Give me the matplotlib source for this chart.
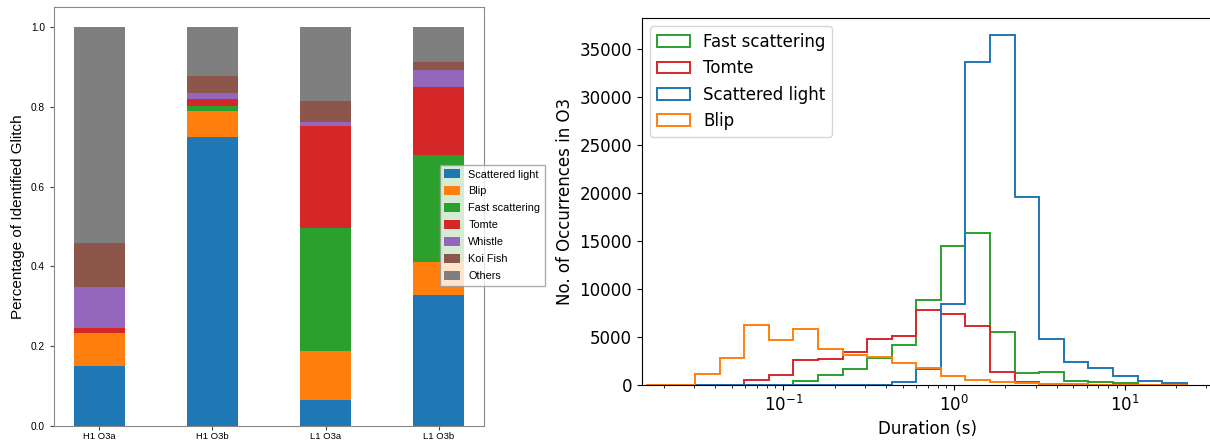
import numpy as np
import matplotlib
matplotlib.use("Agg")
import matplotlib.pyplot as plt

# left panel: fraction of identified glitches per detector / run
runs = ["H1 O3a", "H1 O3b", "L1 O3a", "L1 O3b"]
classes = ["Scattered light", "Blip", "Fast scattering", "Tomte", "Whistle", "Koi Fish", "Others"]
class_colors = ["#1f77b4", "#ff7f0e", "#2ca02c", "#d62728", "#9467bd", "#8c564b", "#7f7f7f"]
scattered_light = [0.150, 0.724, 0.065, 0.328]
blip = [0.082, 0.065, 0.123, 0.083]
fast_scattering = [0.002, 0.013, 0.308, 0.268]
tomte = [0.012, 0.018, 0.256, 0.171]
whistle = [0.103, 0.015, 0.010, 0.042]
koi_fish = [0.110, 0.042, 0.053, 0.020]
others = [0.541, 0.123, 0.185, 0.088]

# right panel: duration histograms (counts per log bin)
bin_edges = np.logspace(-1.804, 1.362, 23)
fast_counts = [0, 0, 0, 0, 0, 30, 420, 1085, 1680, 2800, 4160, 8810,
               14510, 15800, 5520, 1285, 1354, 451, 278, 174, 0, 0]
tomte_counts = [0, 0, 0, 0, 525, 1085, 2620, 2730, 3430, 4830, 5140, 7760,
                7360, 6110, 1390, 278, 100, 30, 20, 10, 0, 0]
scattered_counts = [0, 0, 0, 0, 0, 0, 0, 0, 0, 30, 347, 1632,
                    8470, 33580, 36390, 19620, 4757, 2400, 1806, 938, 417, 243]
blip_counts = [0, 0, 1110, 2760, 6290, 4690, 5800, 3710, 3110, 2900, 2240, 1810,
               903, 556, 312, 200, 120, 80, 50, 30, 20, 10]

W, H = 1210, 441
fig = plt.figure(figsize=(W / 100, H / 100), dpi=100)

# ---- left: stacked bars
ax1 = fig.add_axes([54 / W, 15 / H, 430 / W, 419 / H])
x = np.arange(len(runs))
bottom = np.zeros(len(runs))
for name, vals, color in zip(classes,
                             [scattered_light, blip, fast_scattering, tomte, whistle, koi_fish, others],
                             class_colors):
    ax1.bar(x, vals, 0.45, bottom=bottom, color=color, label=name)
    bottom += np.array(vals)
ax1.set_xticks(x)
ax1.set_xticklabels(runs)
ax1.set_yticks([0.0, 0.2, 0.4, 0.6, 0.8, 1.0])
ax1.set_ylim(0, 1.05)
for lab in ax1.get_xticklabels() + ax1.get_yticklabels():
    lab.set_fontfamily("Liberation Sans")
    lab.set_fontsize(7.3)
ax1.tick_params(colors="#444444", labelcolor="black", length=3)
ax1.tick_params(axis="x", pad=1.2, labelsize=6.8)
for sp in ax1.spines.values():
    sp.set_color("#888888")
ax1.set_ylabel("Percentage of Identified Glitch", fontsize=11, family="Liberation Sans")
leg1 = ax1.legend(loc="upper left", bbox_to_anchor=(0.898, 0.623), borderaxespad=0,
                  prop={"family": "Liberation Sans", "size": 7.8}, fancybox=False,
                  handlelength=1.4, handleheight=0.9, labelspacing=0.62)
leg1.get_frame().set_edgecolor("#999999")

# ---- right: duration histograms
ax2 = fig.add_axes([641.7 / W, 56 / H, 572 / W, 367 / H])
centers = np.sqrt(bin_edges[:-1] * bin_edges[1:])
ax2.hist(centers, bins=bin_edges, weights=fast_counts, histtype="step", color="#2ca02c",
         linewidth=1.4, label="Fast scattering")
ax2.hist(centers, bins=bin_edges, weights=tomte_counts, histtype="step", color="#d62728",
         linewidth=1.4, label="Tomte")
ax2.hist(centers, bins=bin_edges, weights=scattered_counts, histtype="step", color="#1f77b4",
         linewidth=1.4, label="Scattered light")
ax2.hist(centers, bins=bin_edges, weights=blip_counts, histtype="step", color="#ff7f0e",
         linewidth=1.4, label="Blip")
ax2.set_xscale("log")
ax2.set_xlim(0.01484, 33.1)
ax2.set_ylim(0, 38200)
ax2.tick_params(labelsize=12)
ax2.set_xlabel("Duration (s)", fontsize=12)
ax2.set_ylabel("No. of Occurrences in O3", fontsize=12)
ax2.legend(loc="upper left", fontsize=12)

fig.savefig("out.png", dpi=100)
